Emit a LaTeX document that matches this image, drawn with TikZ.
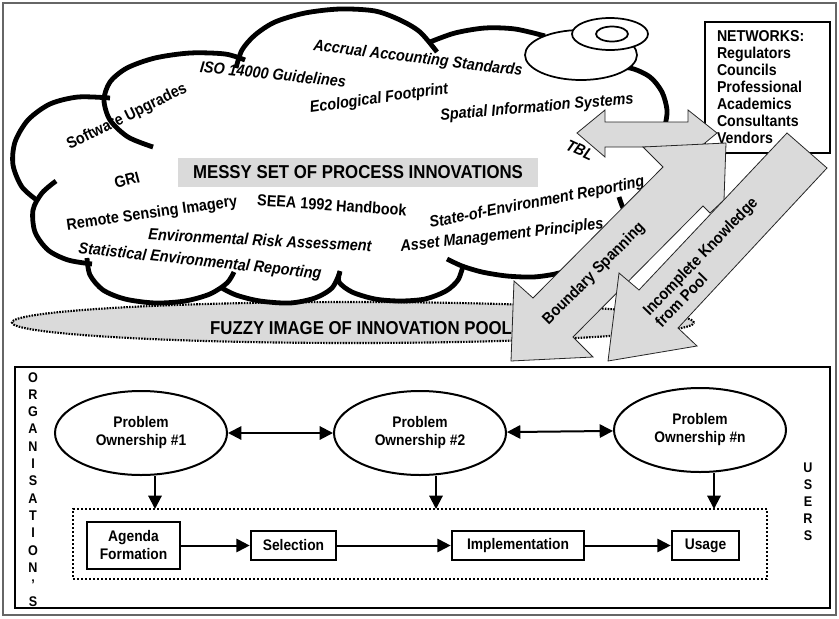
\documentclass[tikz,border=0pt]{standalone}
\usepackage{fontspec}
\setmainfont{Liberation Sans}[FakeStretch=0.9]
\usetikzlibrary{arrows.meta,shapes.geometric}
\definecolor{fillgray}{HTML}{DADADA}
\begin{document}
\begin{tikzpicture}[x=0.75pt,y=-0.75pt,
  cloudline/.style={line width=3.6pt},
  thinell/.style={ellipse, draw, line width=1.3pt, fill=white, inner sep=0pt},
  lab/.style={font=\bfseries\itshape\fontsize{12}{14}\selectfont, inner sep=0pt},
  labup/.style={font=\bfseries\fontsize{12}{14}\selectfont, inner sep=0pt},
  bigtxt/.style={font=\bfseries\fontsize{14}{16}\selectfont, inner sep=0pt},
  blockarrow/.style={fill=fillgray, draw=black!85, line width=0.6pt, line join=miter},
  owner/.style={ellipse, draw, line width=1.5pt, minimum width=129pt, minimum height=63pt, align=center, inner sep=0pt, font=\bfseries\fontsize{11.5}{13.5}\selectfont},
  stepbox/.style={draw, line width=2pt, align=center, inner sep=0pt, font=\bfseries\fontsize{11.5}{13.5}\selectfont},
  conn/.style={line width=1.5pt, -{Triangle[length=10pt,width=10pt]}},
  biconn/.style={line width=1.5pt, {Triangle[length=10pt,width=10pt]}-{Triangle[length=10pt,width=10pt]}},
  vletter/.style={font=\bfseries\fontsize{10.5}{12}\selectfont, inner sep=0pt, anchor=base},
]
\useasboundingbox (0,0) rectangle (839,618);
\fill[white] (0,0) rectangle (839,618);
% outer frame
\draw[black!60, line width=1.8pt] (3,3) rectangle (836,615);

% fuzzy pool
\node[ellipse, fill=fillgray, draw, line width=1.6pt, dash pattern=on 1.2pt off 0.9pt, minimum width=511.5pt, minimum height=30.75pt, inner sep=0pt] (pool) at (353,322.5) {};
\node[bigtxt] (pooltxt) at (361,328) {FUZZY IMAGE OF INNOVATION POOL};

% cloud lobes
\draw[cloudline] plot[smooth] coordinates {(38,201) (22,187) (13,165) (15,142) (28,120) (50,104) (78,97) (110,98)};
\draw[cloudline] plot[smooth] coordinates {(153,147) (128,137) (110,120) (104,100) (110,82) (127,68) (155,58) (190,53) (225,54) (245,60)};
\draw[cloudline] plot[smooth] coordinates {(236,68) (242,50) (255,35) (275,22) (305,13) (340,9) (375,11) (400,20) (420,32) (437,52)};
\draw[cloudline] plot[smooth] coordinates {(430,42) (455,33) (485,28) (515,29) (545,36)};
\draw[cloudline] plot[smooth] coordinates {(605,68) (630,68) (650,77) (662,92) (667,110) (665,125) (660,135)};
\draw[cloudline] plot[smooth] coordinates {(619,197) (624,210) (635,225) (650,240)};
\draw[cloudline] plot[smooth] coordinates {(447,259) (462,266) (482,272) (507,276) (533,277) (555,274) (575,268) (595,258)};
\draw[cloudline] plot[smooth] coordinates {(340,271) (339,282) (352,292) (375,299) (400,301) (425,299) (446,291) (458,280) (463,266)};
\draw[cloudline] plot[smooth] coordinates {(220,287) (236,295) (260,301) (290,303) (315,298) (332,288) (340,272)};
\draw[cloudline] plot[smooth] coordinates {(87,258) (90,275) (103,290) (125,299) (155,303) (185,301) (210,294) (227,283) (234,272)};
\draw[cloudline] plot[smooth] coordinates {(56,181) (42,193) (33,210) (35,232) (48,250) (68,260) (92,264)};

% labels in cloud
\node[fill=fillgray, minimum width=270pt, minimum height=21.75pt, bigtxt] (messy) at (358,172.5) {MESSY SET OF PROCESS INNOVATIONS};
\node[lab, rotate=-7] (accr) at (418,59) {Accrual Accounting Standards};
\node[lab, rotate=-6] (iso) at (273,74) {ISO 14000 Guidelines};
\node[lab, rotate=8] (eco) at (379,99) {Ecological Footprint};
\node[lab, rotate=5] (spat) at (537,108) {Spatial Information Systems};
\node[labup, rotate=26] (soft) at (127,117) {Software Upgrades};
\node[labup, rotate=15] (gri) at (127,180) {GRI};
\node[labup, rotate=8] (rsi) at (152,214) {Remote Sensing Imagery};
\node[labup, rotate=-4] (seea) at (332,205) {SEEA 1992 Handbook};
\node[lab, rotate=-3] (era) at (260,240) {Environmental Risk Assessment};
\node[lab, rotate=-6] (ser) at (200,262) {Statistical Environmental Reporting};
\node[lab, rotate=11] (soe) at (537,203) {State-of-Environment Reporting};
\node[lab, rotate=6.5] (amp) at (502,236) {Asset Management Principles};
\node[lab, rotate=-25] (tbl) at (580,150) {TBL};

% thin ellipses top right
\node[thinell, minimum width=84pt, minimum height=37.5pt] (ellA) at (581,55) {};
\node[thinell, minimum width=57pt, minimum height=24pt] (ellB) at (610,34) {};
\node[thinell, minimum width=24pt, minimum height=11.25pt] (ellC) at (612,34) {};

% networks box
\node[draw, line width=1.9pt, text width=75.75pt, inner xsep=9pt, inner ysep=0pt, minimum height=98.25pt, align=left, font=\bfseries\fontsize{11.8}{12.75}\selectfont] (net) at (767.5,87.5) {NETWORKS:\\Regulators\\Councils\\Professional\\Academics\\Consultants\\Vendors};

% block arrows
\draw[blockarrow] (577,133) -- (605,110) -- (605,122) -- (688,122) -- (688,110) -- (717,133) -- (688,157) -- (688,147) -- (605,147) -- (605,157) -- cycle;
\draw[blockarrow] (643,147) -- (726,143) -- (724,200) -- (710,213) -- (703,206) -- (573,337) -- (593,357) -- (511,361) -- (514,281) -- (533,298) -- (663,167) -- cycle;
\node[labup, rotate=45] (bs) at (594,274) {Boundary Spanning};
\draw[blockarrow] (787,133) -- (827,168) -- (678,328) -- (697,346) -- (608,361) -- (619,273) -- (639,290) -- cycle;
\node[labup, rotate=46, align=left, font=\bfseries\fontsize{12}{12.75}\selectfont] (ik) at (706,262) {Incomplete Knowledge\\from Pool};

% organisation box
\node[draw, line width=2.2pt, minimum width=611.25pt, minimum height=180.75pt, inner sep=0pt] (orgbox) at (422.5,487.5) {};
\foreach \ch [count=\i from 0] in {O,R,G,A,N,I,S,A,T,I,O,N,’,S}
  \node[vletter] (org\i) at (33,{382+17.3*\i}) {\ch};
\foreach \ch [count=\i from 0] in {U,S,E,R,S}
  \node[vletter] (usr\i) at (808,{472+17*\i}) {\ch};

\node[owner] (ell1) at (141,433) {Problem\\Ownership \#1};
\node[owner] (ell2) at (420,433) {Problem\\Ownership \#2};
\node[owner] (elln) at (700,430) {Problem\\Ownership \#n};
\draw[biconn] (ell1) -- (ell2);
\draw[biconn] (ell2) -- (elln);

\node[draw, line width=1.5pt, dash pattern=on 1.5pt off 1.5pt, minimum width=520.5pt, minimum height=52.5pt, inner sep=0pt] (proc) at (420,544) {};
\coordinate (d1) at (155,509);
\coordinate (d2) at (436,509);
\coordinate (d3) at (714,509);
\draw[conn] (ell1.south -| d1) -- (d1);
\draw[conn] (ell2.south -| d2) -- (d2);
\draw[conn] (elln.south -| d3) -- (d3);

\node[stepbox, minimum width=69.75pt, minimum height=35.25pt] (agenda) at (133.5,545.5) {Agenda\\Formation};
\node[stepbox, minimum width=63.75pt, minimum height=21.75pt] (sel) at (293.5,545.5) {Selection};
\node[stepbox, minimum width=99pt, minimum height=21.75pt] (impl) at (518,545.5) {Implementation};
\node[stepbox, minimum width=50.25pt, minimum height=21.75pt] (usage) at (705.5,545.5) {Usage};
\draw[conn] (agenda) -- (sel);
\draw[conn] (sel) -- (impl);
\draw[conn] (impl) -- (usage);
\end{tikzpicture}
\end{document}
